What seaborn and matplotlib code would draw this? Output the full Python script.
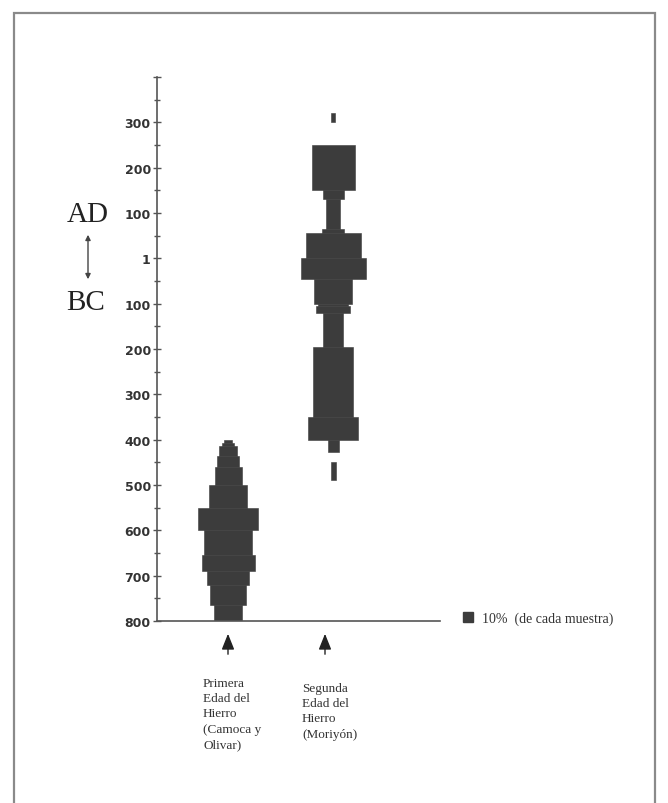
import numpy as np
import pandas as pd
import matplotlib
matplotlib.use("Agg")
import matplotlib.pyplot as plt
import seaborn as sns
from matplotlib.patches import Patch, Rectangle, FancyArrowPatch

# ---------------- data ----------------
# years: AD positive, BC negative (year 1 drawn at 0)
series_names = ["Primera Edad del Hierro (Camoca y Olivar)",
                "Segunda Edad del Hierro (Moriyón)"]

# Primera Edad del Hierro: segments (from, to) and width in % of sample
primera_from = [-408, -415, -435, -460, -500, -550, -600, -655, -690, -720, -765, -800]
primera_to   = [-400, -408, -415, -435, -460, -500, -550, -600, -655, -690, -720, -765]
primera_pct  = [8, 12, 18, 22, 27, 38, 60, 48, 53, 42, 36, 28]

# Segunda Edad del Hierro
segunda_from = [300, 150, 130, 65, 55, 0, -45, -100, -105, -120, -195, -350, -400, -427, -490]
segunda_to   = [320, 250, 150, 130, 65, 55, 0, -45, -100, -105, -120, -195, -350, -400, -450]
segunda_pct  = [3.5, 43, 21, 14, 22, 55, 65, 38, 30, 34, 20, 40, 50, 11, 5]

ytick_values = [400, 300, 200, 100, 0, -100, -200, -300, -400, -500, -600, -700, -800]
ytick_labels = ["", "300", "200", "100", "1", "100", "200", "300", "400",
                "500", "600", "700", "800"]

label_primera = "Primera\nEdad del\nHierro\n(Camoca y\nOlivar)"
label_segunda = "Segunda\nEdad del\nHierro\n(Moriyón)"
legend_text = "10%  (de cada muestra)"

# ---------------- styling ----------------
sns.set_theme(style="white")
plt.rcParams["font.family"] = ["DejaVu Sans"]

W, H = 668, 804
fig = plt.figure(figsize=(W / 100, H / 100), dpi=100)
fig.patch.set_facecolor("white")

def fx(px):
    return px / W

def fy(py):
    return 1 - py / H

ax = fig.add_axes([fx(157), fy(622), fx(440) - fx(157), fy(78) - fy(622)])
ax.set_xlim(0, 283)
ax.set_ylim(-800, 400)

shape_color = "#3c3c3c"
centers = [71, 176]

frames = []
for name, fr, to, pct in [(series_names[0], primera_from, primera_to, primera_pct),
                          (series_names[1], segunda_from, segunda_to, segunda_pct)]:
    frames.append(pd.DataFrame({"serie": name, "desde": fr, "hasta": to, "pct": pct}))
df = pd.concat(frames, ignore_index=True)

for c, name in zip(centers, series_names):
    d = df[df["serie"] == name]
    ax.barh(y=(d["desde"] + d["hasta"]) / 2, width=d["pct"],
            height=d["hasta"] - d["desde"], left=c - d["pct"] / 2,
            color=shape_color, edgecolor=shape_color, linewidth=0.4)

sns.despine(ax=ax, top=True, right=True)
for s in ["left", "bottom"]:
    ax.spines[s].set_color("#555555")
    ax.spines[s].set_linewidth(1.2)

ax.set_yticks(ytick_values)
ax.set_yticklabels(ytick_labels, fontsize=9, fontweight="bold",
                   family=["DejaVu Sans"], color="#333333")
ax.set_yticks([v + 50 for v in ytick_values[1:]], minor=True)
ax.tick_params(axis="y", which="major", direction="inout", length=6, width=1,
               color="#555555", pad=1.5, left=True)
ax.tick_params(axis="y", which="minor", direction="inout", length=4, width=1,
               color="#555555", left=True)
ax.set_xticks([])
ax.set_xlabel("")
ax.set_ylabel("")

# arrows under the axis pointing to each series
trans = ax.get_xaxis_transform()
for xa in [71, 168]:
    ax.annotate("", xy=(xa, -(632 - 622) / 544), xytext=(xa, -(658 - 622) / 544),
                xycoords=trans, textcoords=trans,
                arrowprops=dict(arrowstyle="-|>,head_length=0.8,head_width=0.32",
                                color="#222222", lw=1.0), annotation_clip=False)

serif = ["Liberation Serif", "DejaVu Serif"]
ax.text(46, -(678 - 622) / 544, label_primera, transform=trans, ha="left", va="top",
        fontsize=9.5, family=serif, color="#333333", linespacing=1.36)
ax.text(145, -(683 - 622) / 544, label_segunda, transform=trans, ha="left", va="top",
        fontsize=9.5, family=serif, color="#333333", linespacing=1.36)

# AD / BC with double arrow
fig.text(fx(88), fy(215), "AD", ha="center", va="center", fontsize=21,
         family=serif, color="#222222")
fig.text(fx(86), fy(303), "BC", ha="center", va="center", fontsize=21,
         family=serif, color="#222222")
fig.add_artist(FancyArrowPatch(
    (fx(88), fy(233)), (fx(88), fy(283)), transform=fig.transFigure,
    arrowstyle="<|-|>,head_length=3,head_width=1.5", color="#444444", lw=1.0))

# legend
leg = ax.legend(handles=[Patch(facecolor=shape_color, edgecolor=shape_color)],
                labels=[legend_text], loc="center left",
                bbox_to_anchor=(fx(463), fy(619)), bbox_transform=fig.transFigure,
                frameon=False, borderpad=0, borderaxespad=0, handlelength=0.75,
                handleheight=0.7, handletextpad=0.6,
                prop={"family": serif, "size": 10})
for t in leg.get_texts():
    t.set_color("#333333")

# outer frame
fig.add_artist(Rectangle((fx(14), fy(812)), fx(655) - fx(14), fy(14) - fy(812),
                         transform=fig.transFigure, fill=False,
                         edgecolor="#8a8a8a", lw=1.6))

fig.savefig("out.png", dpi=100, facecolor="white")
